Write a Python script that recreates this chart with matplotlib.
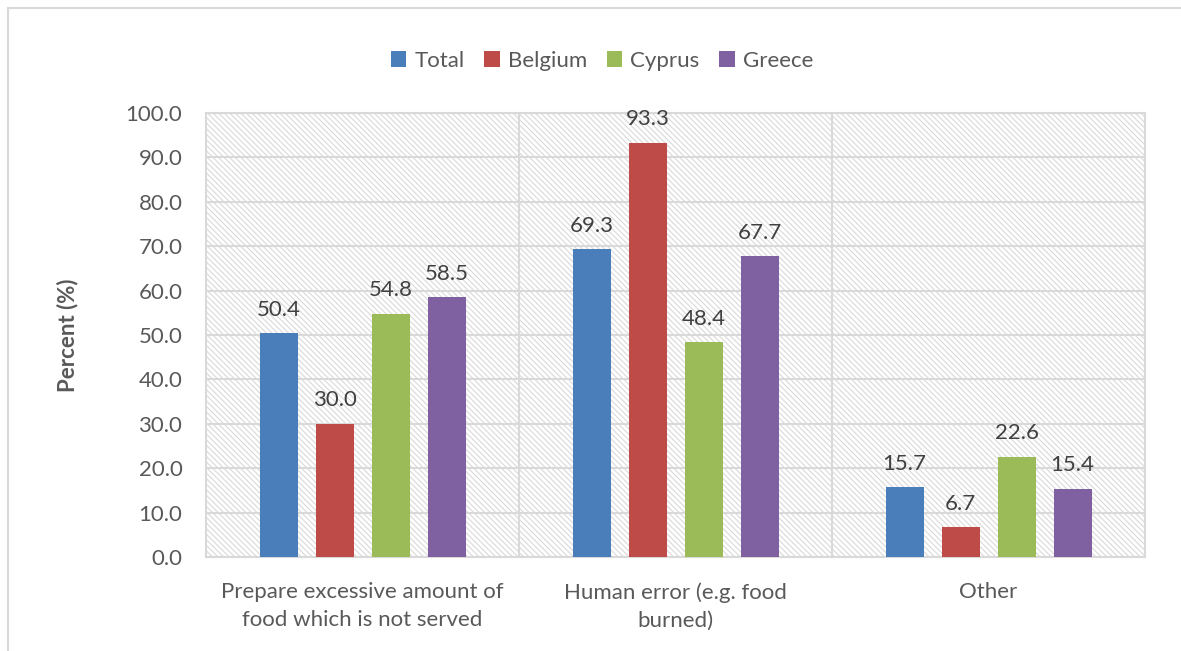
import numpy as np
import matplotlib
matplotlib.use('Agg')
import matplotlib.pyplot as plt
from matplotlib.patches import Rectangle

plt.rcParams['font.family'] = ['Lato', 'DejaVu Sans']
plt.rcParams['hatch.color'] = '#d9d9d9'
plt.rcParams['hatch.linewidth'] = 0.8

categories = ['Prepare excessive amount of\nfood which is not served',
              'Human error (e.g. food\nburned)',
              'Other']
series = ['Total', 'Belgium', 'Cyprus', 'Greece']
total = [50.4, 69.3, 15.7]
belgium = [30.0, 93.3, 6.7]
cyprus = [54.8, 48.4, 22.6]
greece = [58.5, 67.7, 15.4]
colors = ['#4a7ebb', '#be4b48', '#9bbb59', '#7f60a0']
yticks = np.arange(0, 101, 10)

values = [total, belgium, cyprus, greece]
FS = 16
TXT = '#595959'

fig = plt.figure(figsize=(11.81, 6.51), dpi=100)
# outer chart border (cropped at right/bottom in the reference)
fig.patches.append(Rectangle((8 / 1181, -0.1), 1.2, 1 - 8 / 651 + 0.1,
                             transform=fig.transFigure, fill=False,
                             edgecolor='#d9d9d9', linewidth=1.5))

ax = fig.add_axes([206 / 1181, 1 - 557 / 651, 939 / 1181, 444 / 651])
ax.set_xlim(-0.5, 2.5)
ax.set_ylim(0, 100)

# hatched plot area background
ax.add_patch(Rectangle((0, 0), 1, 1, transform=ax.transAxes, facecolor='white',
                       edgecolor='#d9d9d9', linewidth=0, hatch='\\' * 6, zorder=0))

x = np.arange(len(categories))
step = 56 / 313
width = 38 / 313
for i, (name, vals, c) in enumerate(zip(series, values, colors)):
    pos = x + (i - 1.5) * step
    ax.bar(pos, vals, width, color=c, label=name, zorder=3)
    for px, v in zip(pos, vals):
        ax.text(px, v + 3, f'{v:.1f}', ha='center', va='bottom',
                fontsize=FS, color='#404040', zorder=4)

ax.set_yticks(yticks)
ax.set_yticklabels([f'{t:.1f}' for t in yticks])
ax.set_xticks(x)
ax.set_xticklabels(categories, linespacing=1.5)
ax.grid(axis='y', color='#d9d9d9', linewidth=1.5, zorder=1)
for b in [0.5, 1.5]:
    ax.axvline(b, color='#d9d9d9', linewidth=1.5, zorder=1)
for s in ax.spines.values():
    s.set_color('#d9d9d9')
    s.set_linewidth(1.5)
ax.tick_params(length=0, labelsize=FS, labelcolor=TXT)
ax.tick_params(axis='y', pad=17)
ax.tick_params(axis='x', pad=18)
ax.set_ylabel('Percent (%)', fontsize=FS, fontweight='bold', color=TXT, labelpad=34)

fig.legend(*ax.get_legend_handles_labels(), loc='center',
           bbox_to_anchor=(602 / 1181, 1 - 61 / 651), ncol=4, frameon=False,
           fontsize=FS, handlelength=0.7, handleheight=0.7, handletextpad=0.35,
           columnspacing=0.9, labelcolor=TXT)

fig.savefig('out.png', dpi=100)
